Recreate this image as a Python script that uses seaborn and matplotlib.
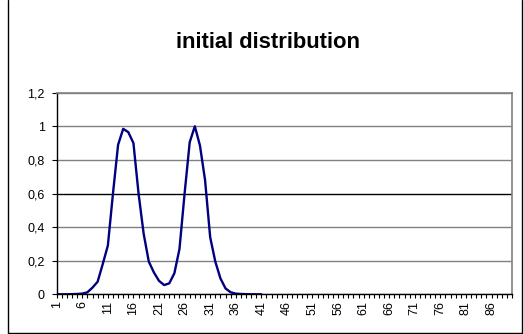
import matplotlib
matplotlib.use("Agg")
import matplotlib.pyplot as plt
from matplotlib.lines import Line2D
import seaborn as sns
import pandas as pd
import numpy as np

# ---- data ----
categories = list(range(1, 91))          # category axis 1..90
x_values = list(range(1, 42))            # points that carry data
y_values = [0.0, 0.0, 0.0, 0.001, 0.002, 0.004, 0.012, 0.04, 0.075, 0.18,
            0.29, 0.60, 0.89, 0.985, 0.965, 0.90, 0.60, 0.36, 0.195, 0.13,
            0.08, 0.055, 0.065, 0.125, 0.27, 0.60, 0.905, 1.0, 0.886, 0.68,
            0.34, 0.195, 0.095, 0.035, 0.012, 0.004, 0.002, 0.001, 0.0, 0.0,
            0.0]
y_ticks = [0, 0.2, 0.4, 0.6, 0.8, 1.0, 1.2]
y_tick_labels = ["0", "0,2", "0,4", "0,6", "0,8", "1", "1,2"]
title = "initial distribution"

sns.set_theme(style="white")
plt.rcParams['font.family'] = ['Liberation Sans', 'DejaVu Sans']
plt.rcParams['text.color'] = 'black'
plt.rcParams['xtick.color'] = 'black'
plt.rcParams['ytick.color'] = 'black'
plt.rcParams['xtick.labelcolor'] = 'black'
plt.rcParams['ytick.labelcolor'] = 'black'

W, H = 524, 334
fig = plt.figure(figsize=(W / 100, H / 100), dpi=100)
fig.patch.set_facecolor("white")

left, right, top, bottom = 56.7, 512.0, 92.7, 294.3
ax = fig.add_axes([left / W, 1 - bottom / H, (right - left) / W, (bottom - top) / H])

df = pd.DataFrame({"x": x_values, "y": y_values})
sns.lineplot(data=df, x="x", y="y", ax=ax, color="#000080", linewidth=1.7)

ax.set_xlim(categories[0], categories[-1])
ax.set_ylim(y_ticks[0], y_ticks[-1])
ax.set_xlabel("")
ax.set_ylabel("")

ax.set_xticks(categories)
ax.set_xticklabels([str(c) if (c - 1) % 5 == 0 else "" for c in categories],
                   rotation=90, fontsize=9, color="black")
ax.set_yticks(y_ticks)
ax.set_yticklabels(y_tick_labels, fontsize=9, color="black")

ax.tick_params(axis="x", which="major", direction="out", length=3.0, width=0.8,
               color="black", pad=2, bottom=True)
ax.tick_params(axis="y", which="major", direction="out", length=3.6, width=0.8,
               color="black", pad=5, left=True)

ax.grid(axis="y", color="#808080", linewidth=1.0)
ax.grid(axis="x", visible=False)
for val, gl in zip(y_ticks, ax.get_ygridlines()):
    if abs(val - 0.6) < 1e-9:
        gl.set_color("black")
ax.set_axisbelow(True)

for side in ("left", "bottom"):
    ax.spines[side].set_color("black")
    ax.spines[side].set_linewidth(1.0)
for side in ("top", "right"):
    ax.spines[side].set_color("#808080")
    ax.spines[side].set_linewidth(1.2)
    ax.spines[side].set_visible(True)

fig.text(268.5 / W, 1 - 42 / H, title, ha="center", va="center",
         fontsize=15.8, fontweight="bold", color="black")

# chart-area border (left, right, bottom)
bx0, bx1, by1 = 7.5, 521.5, 332.5
for xs, ys in [([bx0, bx0], [0, by1]), ([bx1, bx1], [0, by1]), ([bx0, bx1], [by1, by1])]:
    fig.add_artist(Line2D([x / W for x in xs], [1 - y / H for y in ys],
                          transform=fig.transFigure, color="black", linewidth=1.0))

fig.savefig("out.png", dpi=100, facecolor="white")
